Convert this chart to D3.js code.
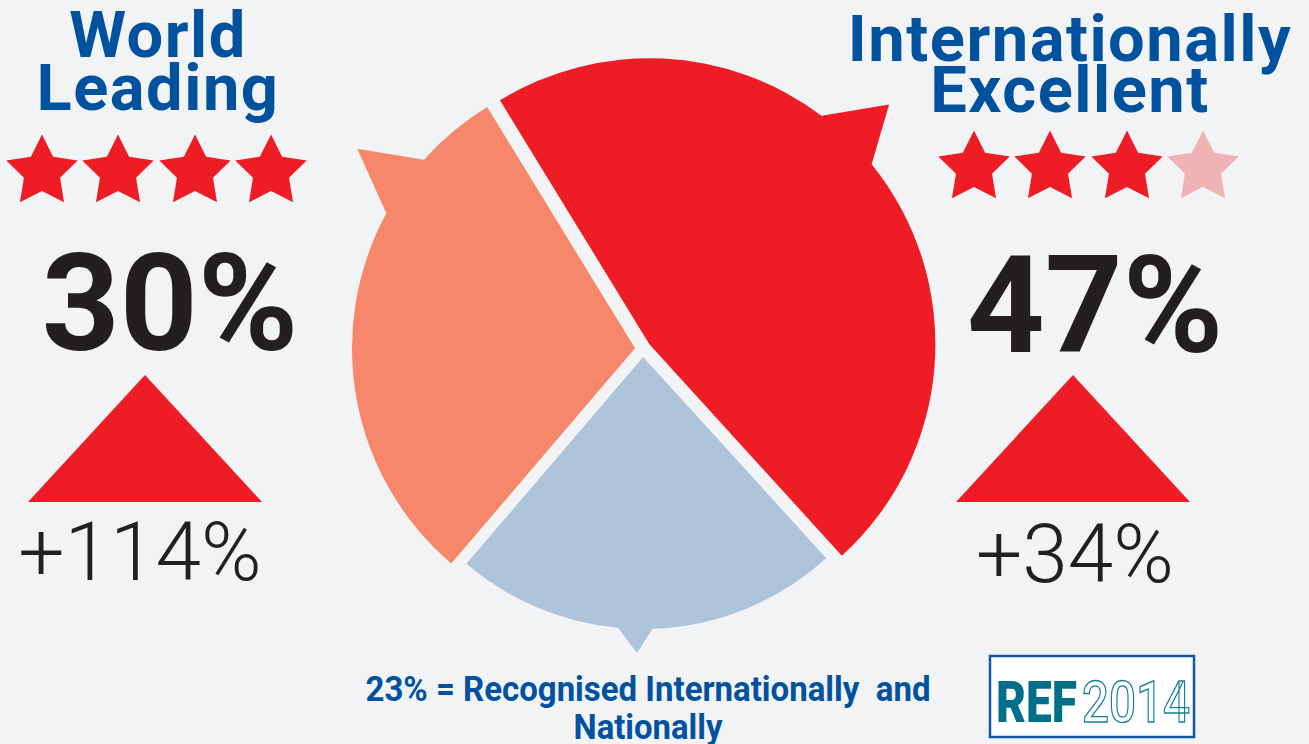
<!DOCTYPE html>
<html>
<head>
<meta charset="utf-8">
<script src="https://cdn.jsdelivr.net/npm/d3@7"></script>
<style>
  html, body { margin: 0; padding: 0; background: #f2f3f5; }
  svg { display: block; }
  text { font-family: Roboto, "Noto Sans", sans-serif; }
</style>
</head>
<body>
<svg id="chart" width="1309" height="744"></svg>
<script>
// REF 2014 quality profile
var categories = ["Internationally Excellent", "Recognised Internationally and Nationally", "World Leading"];
var shares = [47, 23, 30];
var starRatings = [3, 0, 4];
var changes = ["+34%", "", "+114%"];
var colors = ["#ee1d25", "#acc3da", "#f6876a"];

var W = 1309, H = 744;
var svg = d3.select("#chart");

svg.append("rect").attr("width", W).attr("height", H).attr("fill", "#f2f3f5");

var rad = function(deg) { return deg * Math.PI / 180; };

// pie, clockwise from the red/salmon boundary
var pie = d3.pie().sort(null)
    .startAngle(rad(-31.5))
    .endAngle(rad(328.5));
var arcs = pie(shares);

// per-slice outer radius and speech-bubble tail (degrees, from 12 o'clock)
var radius = [286, 272, 283];
var tails = [
  {a1: 37, tip: 45, a2: 51, r: 339},
  {a1: 178, tip: 181.2, a2: 185.3, r: 296},
  {a1: 298.5, tip: 305.7, a2: 311.8, r: 342}
];
var explode = 8;
var cx = 643, cy = 349;

function pt(a, r) {
  return [r * Math.sin(a), -r * Math.cos(a)];
}

function slicePath(d, i) {
  var r = radius[i], t = tails[i];
  var ca = function(a) { return a - Math.PI / 2; };
  var p = d3.path();
  p.moveTo(0, 0);
  var s = pt(d.startAngle, r);
  p.lineTo(s[0], s[1]);
  p.arc(0, 0, r, ca(d.startAngle), ca(rad(t.a1)));
  var tip = pt(rad(t.tip), t.r);
  p.lineTo(tip[0], tip[1]);
  var b2 = pt(rad(t.a2), r);
  p.lineTo(b2[0], b2[1]);
  p.arc(0, 0, r, ca(rad(t.a2)), ca(d.endAngle));
  p.closePath();
  return p.toString();
}

var pieG = svg.append("g").attr("transform", "translate(" + cx + "," + cy + ")");
pieG.selectAll("path")
  .data(arcs)
  .enter().append("path")
    .attr("d", slicePath)
    .attr("fill", function(d, i) { return colors[i]; })
    .attr("transform", function(d) {
      var off = pt((d.startAngle + d.endAngle) / 2, explode);
      return "translate(" + off[0] + "," + off[1] + ")";
    });

// side panels
var blue = "#00519e", ink = "#231f20";
var panels = [
  {i: 2, title: ["World", "Leading"], tx: 158, ty: [57, 110], sx: [42, 118, 195, 271], sy: 172,
   num: 170, numY: 350, tri: 145, chg: 140, chgY: 580},
  {i: 0, title: ["Internationally", "Excellent"], tx: 1070, ty: [61, 112], sx: [974, 1050, 1127, 1203], sy: 168,
   num: 1095, numY: 352, tri: 1073, chg: 1075, chgY: 582}
];

// fat five-point star, inner radius about half the outer
var starPts = d3.range(10).map(function(k) {
  return [k * Math.PI / 5, k % 2 ? 19 : 37.5];
});
var star = d3.lineRadial().curve(d3.curveLinearClosed)(starPts);

panels.forEach(function(p) {
  var g = svg.append("g");
  g.selectAll("text.title")
    .data(p.title)
    .enter().append("text")
      .attr("class", "title")
      .attr("x", p.tx)
      .attr("y", function(d, k) { return p.ty[k]; })
      .attr("text-anchor", "middle")
      .attr("font-size", 65)
      .attr("font-weight", 700)
      .attr("letter-spacing", 1.5)
      .attr("fill", blue)
      .text(function(d) { return d; });

  g.selectAll("path.star")
    .data(p.sx)
    .enter().append("path")
      .attr("class", "star")
      .attr("d", star)
      .attr("transform", function(x) { return "translate(" + x + "," + p.sy + ")"; })
      .attr("fill", function(x, k) { return k < starRatings[p.i] ? "#ee1d25" : "#efb3b6"; });

  g.append("text")
    .attr("x", p.num).attr("y", p.numY)
    .attr("text-anchor", "middle")
    .attr("font-size", 136)
    .attr("font-weight", 700)
    .attr("fill", ink)
    .text(shares[p.i] + "%");

  g.append("path")
    .attr("d", d3.line()([[p.tri, 375], [p.tri + 117, 502], [p.tri - 117, 502]]) + "Z")
    .attr("fill", "#ee1d25");

  g.append("text")
    .attr("x", p.chg).attr("y", p.chgY)
    .attr("text-anchor", "middle")
    .attr("font-size", 82)
    .attr("font-weight", 300)
    .attr("fill", ink)
    .text(changes[p.i]);
});

// bottom caption
svg.append("text")
  .attr("x", 648).attr("y", 701)
  .attr("text-anchor", "middle")
  .attr("font-size", 35)
  .attr("font-weight", 700)
  .attr("fill", blue)
  .attr("textLength", 565)
  .attr("lengthAdjust", "spacingAndGlyphs")
  .style("white-space", "pre")
  .text(shares[1] + "% = Recognised Internationally  and");
svg.append("text")
  .attr("x", 648).attr("y", 739)
  .attr("text-anchor", "middle")
  .attr("font-size", 35)
  .attr("font-weight", 700)
  .attr("fill", blue)
  .attr("textLength", 149)
  .attr("lengthAdjust", "spacingAndGlyphs")
  .text("Nationally");

// REF2014 logo
var logo = svg.append("g");
logo.append("rect")
  .attr("x", 990).attr("y", 656).attr("width", 204).attr("height", 81)
  .attr("fill", "#ffffff").attr("stroke", "#0e57a2").attr("stroke-width", 2.5);
logo.append("text")
  .attr("x", 996).attr("y", 722)
  .attr("font-size", 58).attr("font-weight", 900)
  .attr("fill", "#006f8a")
  .attr("textLength", 81).attr("lengthAdjust", "spacingAndGlyphs")
  .text("REF");
logo.append("text")
  .attr("x", 1082).attr("y", 722)
  .attr("font-size", 58).attr("font-weight", 500)
  .attr("fill", "#ffffff").attr("stroke", "#1a7d96").attr("stroke-width", 1.4)
  .attr("textLength", 108).attr("lengthAdjust", "spacingAndGlyphs")
  .text("2014");
</script>
</body>
</html>
